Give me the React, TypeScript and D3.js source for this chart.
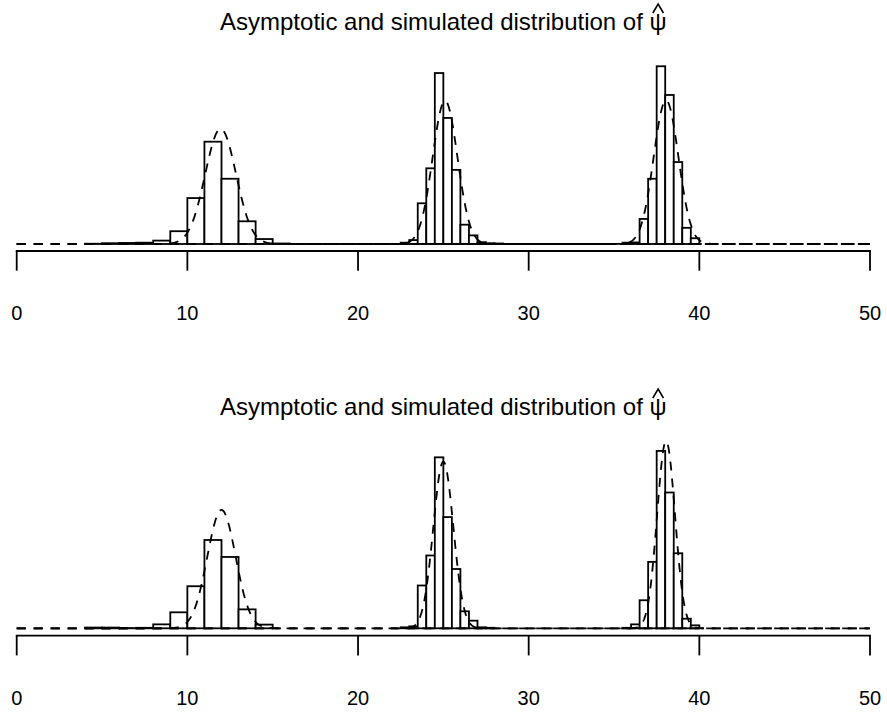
import React, { useEffect, useRef } from "react";
import * as d3 from "d3";

// ---- text ----
const titleText = "Asymptotic and simulated distribution of ";
const psiSymbol = "ψ";
const xTicks = [0, 10, 20, 30, 40, 50];

// ---- panel 1 histograms (density per bin) ----
const p1c1Start = 4;
const p1c1Width = 1;
const p1c1Dens = [0.001, 0.003, 0.004, 0.005, 0.013, 0.049, 0.176, 0.392, 0.25, 0.087, 0.019, 0.002];
const p1c2Start = 22.5;
const p1c2Width = 0.5;
const p1c2Dens = [0.005, 0.015, 0.156, 0.29, 0.655, 0.483, 0.284, 0.074, 0.033, 0.007, 0.003, 0.002];
const p1c3Start = 35.5;
const p1c3Width = 0.5;
const p1c3Dens = [0.005, 0.006, 0.096, 0.25, 0.681, 0.571, 0.314, 0.062, 0.022];

// ---- panel 2 histograms ----
const p2c1Start = 3;
const p2c1Width = 1;
const p2c1Dens = [0.0, 0.003, 0.003, 0.001, 0.002, 0.016, 0.065, 0.171, 0.359, 0.29, 0.077, 0.015];
const p2c2Start = 22.5;
const p2c2Width = 0.5;
const p2c2Dens = [0.004, 0.008, 0.174, 0.296, 0.695, 0.452, 0.241, 0.069, 0.031, 0.004, 0.002];
const p2c3Start = 35.5;
const p2c3Width = 0.5;
const p2c3Dens = [0.002, 0.016, 0.114, 0.27, 0.721, 0.552, 0.305, 0.039, 0.012];

// ---- asymptotic normal densities (mean, sd) ----
const p1Means = [11.95, 25.1, 38.05];
const p1Sds = [0.905, 0.727, 0.725];
const p2Means = [12.0, 25.0, 38.05];
const p2Sds = [0.829, 0.589, 0.524];

const W = 887;
const H = 713;
const FONT = "'Liberation Sans', Arial, Helvetica, sans-serif";

type Hist = { start: number; width: number; dens: number[] };

const panels = [
  {
    hists: [
      { start: p1c1Start, width: p1c1Width, dens: p1c1Dens },
      { start: p1c2Start, width: p1c2Width, dens: p1c2Dens },
      { start: p1c3Start, width: p1c3Width, dens: p1c3Dens },
    ] as Hist[],
    means: p1Means,
    sds: p1Sds,
    y0: 244,
    pxPerUnit: 261,
    axisY: 251,
    labelY: 320,
    titleY: 29.5,
  },
  {
    hists: [
      { start: p2c1Start, width: p2c1Width, dens: p2c1Dens },
      { start: p2c2Start, width: p2c2Width, dens: p2c2Dens },
      { start: p2c3Start, width: p2c3Width, dens: p2c3Dens },
    ] as Hist[],
    means: p2Means,
    sds: p2Sds,
    y0: 628.3,
    pxPerUnit: 246,
    axisY: 635.7,
    labelY: 704.5,
    titleY: 414.5,
  },
];

function dnorm(x: number, m: number, s: number) {
  return Math.exp(-0.5 * ((x - m) / s) ** 2) / (s * Math.sqrt(2 * Math.PI));
}

export default function App() {
  const ref = useRef<SVGSVGElement>(null);

  useEffect(() => {
    const svg = d3.select(ref.current);
    svg.selectAll("*").remove();
    svg.append("rect").attr("width", W).attr("height", H).attr("fill", "white");

    const x = d3.scaleLinear().domain([0, 50]).range([16.7, 870]);
    const xs = d3.range(0, 50.0001, 0.02);

    panels.forEach((p) => {
      const ymax = 0.75;
      const y = d3
        .scaleLinear()
        .domain([0, ymax])
        .range([p.y0, p.y0 - ymax * p.pxPerUnit]);
      const g = svg.append("g");

      // histograms
      p.hists.forEach((h) => {
        g.append("g")
          .selectAll("rect")
          .data(h.dens)
          .join("rect")
          .attr("x", (_d, i) => x(h.start + i * h.width))
          .attr("width", (_d, i) => x(h.start + (i + 1) * h.width) - x(h.start + i * h.width))
          .attr("y", (d) => y(d))
          .attr("height", (d) => y(0) - y(d))
          .attr("fill", "white")
          .attr("stroke", "black")
          .attr("stroke-width", 1.8);
      });

      // density curves (one per component)
      p.means.forEach((m, k) => {
        const s = p.sds[k];
        const l = d3
          .line<number>()
          .x((v) => x(v))
          .y((v) => y(dnorm(v, m, s)));
        g.append("path")
          .attr("d", l(xs) as string)
          .attr("fill", "none")
          .attr("stroke", "black")
          .attr("stroke-width", 1.8)
          .attr("stroke-dasharray", "9,8");
      });

      // axis
      g.append("line")
        .attr("x1", x(0))
        .attr("x2", x(50))
        .attr("y1", p.axisY)
        .attr("y2", p.axisY)
        .attr("stroke", "black")
        .attr("stroke-width", 1.8)
        .attr("stroke-linecap", "square");
      g.selectAll(".tick")
        .data(xTicks)
        .join("line")
        .attr("x1", (d) => x(d))
        .attr("x2", (d) => x(d))
        .attr("y1", p.axisY)
        .attr("y2", p.axisY + 19.7)
        .attr("stroke", "black")
        .attr("stroke-width", 1.8);
      g.selectAll(".lab")
        .data(xTicks)
        .join("text")
        .attr("x", (d) => x(d))
        .attr("y", p.labelY)
        .attr("text-anchor", "middle")
        .attr("font-family", FONT)
        .attr("font-size", 20)
        .text((d) => String(d));

      // title
      const cx = (x(0) + x(50)) / 2;
      const t1 = g
        .append("text")
        .attr("y", p.titleY)
        .attr("font-family", FONT)
        .attr("font-size", 24)
        .attr("xml:space", "preserve")
        .style("white-space", "pre")
        .text(titleText);
      const t2 = g
        .append("text")
        .attr("y", p.titleY)
        .attr("font-family", FONT)
        .attr("font-size", 24)
        .text(psiSymbol);
      const w1 = (t1.node() as SVGTextElement).getComputedTextLength();
      const w2 = (t2.node() as SVGTextElement).getComputedTextLength();
      const start = cx - (w1 + w2) / 2;
      t1.attr("x", start);
      t2.attr("x", start + w1);
      // hat accent over psi
      const hx = start + w1 + w2 / 2;
      const hy = p.titleY - 25.5;
      g.append("path")
        .attr("d", `M${hx - 5.3},${hy + 9} L${hx},${hy} L${hx + 5.3},${hy + 9}`)
        .attr("fill", "none")
        .attr("stroke", "black")
        .attr("stroke-width", 1.6);
    });
  }, []);

  return (
    <svg
      ref={ref}
      width={W}
      height={H}
      style={{ position: "absolute", left: 0, top: 0, display: "block" }}
    />
  );
}
